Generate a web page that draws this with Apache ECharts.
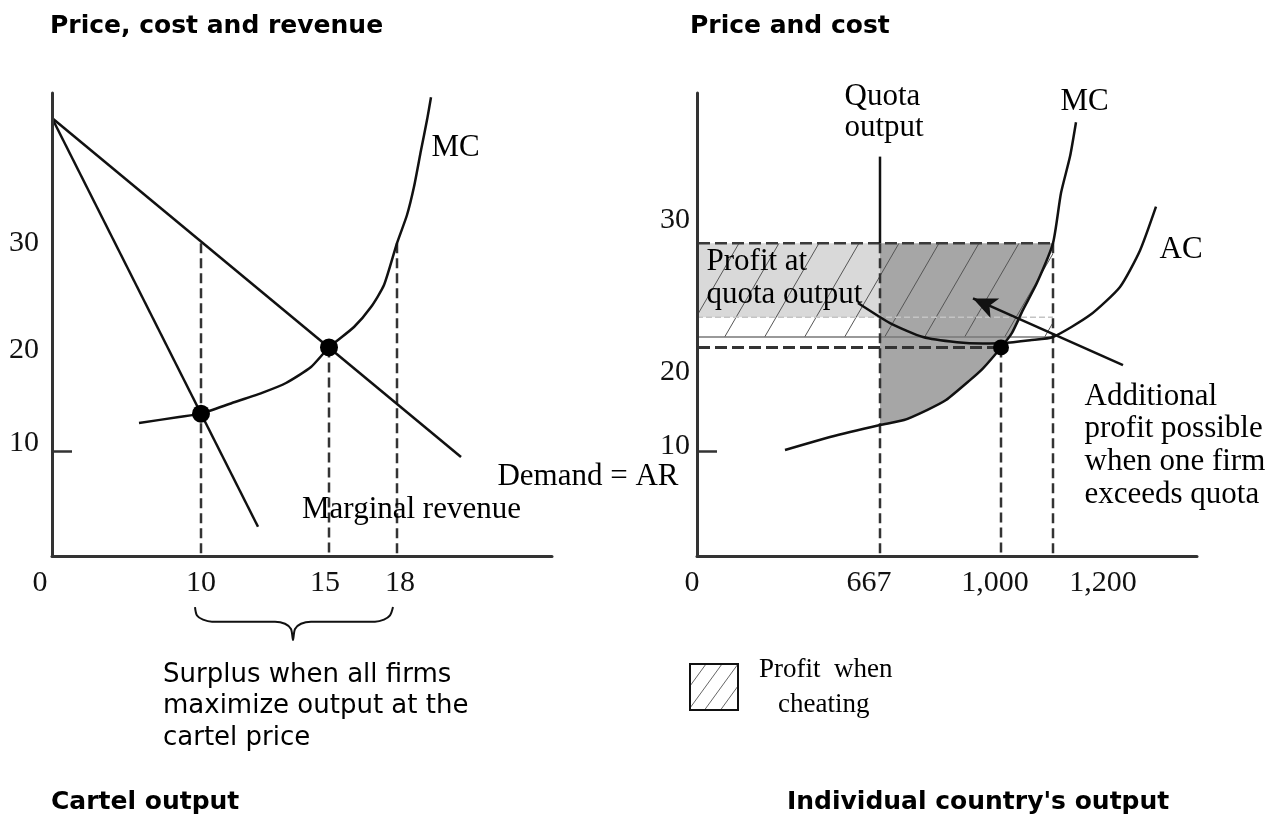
<!DOCTYPE html>
<html><head><meta charset="utf-8">
<script src="https://cdn.jsdelivr.net/npm/echarts@6/dist/echarts.min.js"></script>
<style>html,body{margin:0;padding:0;background:#fff}#c{width:1288px;height:818px}</style>
</head><body><div id="c"></div>
<script>
// ---------------- data (x = schematic output position 0-100 per panel, y = price) ----------------
const priceTicks = [10, 20, 30];
const cartelTickPos = [0, 29.8, 55.4, 69];
const cartelTickLabels = ['0', '10', '15', '18'];
const countryTickPos = [0, 36.6, 60.8, 71.2];
const countryTickLabels = ['0', '667', '1,000', '1,200'];

const cartelPrice = 30;
const cartelCost = 20;
const cartelDemand = [[0, 42], [81.8, 9.5]];
const cartelMR = [[0, 42], [41.2, 2.8]];
const cartelMC = [[17.4, 12.75], [25.4, 13.33], [29.8, 13.65], [36, 14.67], [42.4, 15.72], [46.8, 16.59],
  [51.8, 18.12], [55.4, 20], [60.4, 21.96], [63.8, 23.87], [66.4, 25.98], [69, 30], [71, 32.7],
  [72.4, 35.4], [73.8, 38.9], [75, 41.8], [75.8, 44]];
const cartelPoints = [[29.8, 13.65], [55.4, 20]];
const cartelOutputs = [29.8, 55.4, 69];          // 10, 15, 18
const braceCurve = [[28.6, -4.9], [29, -5.7], [30.2, -6.1], [32, -6.3], [44.6, -6.3], [46.6, -6.5],
  [47.8, -7], [48.2, -8.05], [48.6, -7], [49.8, -6.5], [51.8, -6.3], [64.6, -6.3], [66.4, -6.1],
  [67.6, -5.7], [68.2, -4.9]];

const quotaX = 36.6;        // 667
const equilibriumX = 60.8;  // 1,000
const cheatX = 71.2;        // 1,200
const quotaTop = 38.3;
const quotaProfitFloor = 22.9;
const cheatCost = 21.0;
const countryMC = [[17.6, 10.16], [26.6, 11.41], [36.6, 12.56], [41.4, 13.04], [46, 14.0], [49.8, 14.96], [54.6, 16.87],
  [57.2, 18.0], [60.8, 20], [63, 21.4], [65.2, 23.6], [68, 26.2], [71.2, 30], [72.8, 34.8], [74.6, 38.3], [75.8, 41.6]];
const countryAC = [[32.2, 24.26], [38.6, 22.34], [45.2, 21.0], [52, 20.5], [57.2, 20.38], [61.2, 20.42],
  [66.6, 20.7], [71.2, 21.0], [78.6, 23.1], [84.6, 25.8], [88.6, 29.3], [91.8, 33.5]];
const countryPoint = [[60.8, 20]];
const arrowPath = [[85.2, 18.3], [55.2, 24.7]];

// ---------------- layout & style ----------------
const SERIF = 'Liberation Serif';
const SANS = 'DejaVu Sans';
const G1 = {left: 52, top: 93, width: 500, height: 463};
const G2 = {left: 697, top: 93, width: 500, height: 463};
const X_MAX = 100, Y_MAX = 44.4;
const panelOffset = (G2.left - G1.left) / (G1.width / X_MAX); // left panel start in right-panel units

function makeHatch(w, h, color) {
  const c = document.createElement('canvas');
  c.width = w; c.height = h;
  const g = c.getContext('2d');
  g.strokeStyle = color; g.lineWidth = 1;
  [-w, 0, w].forEach(dx => {
    g.beginPath(); g.moveTo(dx, h); g.lineTo(dx + w, 0); g.stroke();
  });
  return {image: c, repeat: 'repeat'};
}
const hatch = makeHatch(40, 69, '#555');
const hatchSmall = makeHatch(16, 22, '#666');

const chart = echarts.init(document.getElementById('c'), null, {renderer: 'canvas'});

function seg(gi, pts, style, extra) {
  return Object.assign({type: 'line', xAxisIndex: gi, yAxisIndex: gi, data: pts, symbol: 'none',
    showSymbol: false, silent: true, clip: false, lineStyle: style, z: 3}, extra || {});
}
function poly(gi, pts, fill, z, name) {
  return {type: 'custom', name: name, xAxisIndex: gi, yAxisIndex: gi, silent: true, z: z, data: pts,
    encode: {x: 0, y: 1},
    renderItem: (params, api) => {
      if (params.dataIndex !== 0) return null;
      return {type: 'polygon', shape: {points: pts.map(p => api.coord(p))}, style: {fill: fill}};
    }};
}
function texts(gi, items) {
  return {type: 'scatter', xAxisIndex: gi, yAxisIndex: gi, symbolSize: 1, silent: true, clip: false, z: 6,
    itemStyle: {color: 'rgba(0,0,0,0)', opacity: 1},
    data: items.map(it => ({value: it.at, label: {show: true, position: [0, 0], formatter: it.text,
      align: it.align, verticalAlign: 'middle', fontFamily: SERIF, fontSize: it.size || 31,
      lineHeight: it.lh || 33, color: '#000', opacity: 1}}))};
}
function xAxisCfg(gi, pos, labels, pads) {
  return {gridIndex: gi, type: 'value', min: 0, max: X_MAX, z: 10, splitLine: {show: false},
    axisTick: {show: false}, axisLine: {show: true, onZero: false, lineStyle: {color: '#333', width: 3}},
    axisLabel: {customValues: pos, margin: 12,
      formatter: v => { const i = pos.findIndex(p => Math.abs(p - v) < 1e-6); return i < 0 ? '' : '{t' + i + '|' + labels[i] + '}'; },
      rich: Object.fromEntries(pads.map((p, i) => ['t' + i, {fontFamily: SERIF, fontSize: 30, color: '#111', padding: p}]))}};
}
function yAxisCfg(gi, margin, pads) {
  return {gridIndex: gi, type: 'value', min: 0, max: Y_MAX, z: 10, splitLine: {show: false},
    axisLine: {show: true, onZero: false, lineStyle: {color: '#333', width: 3}},
    axisTick: {show: true, inside: true, length: 20, customValues: [priceTicks[0]], lineStyle: {color: '#333', width: 2.5}},
    axisLabel: {customValues: priceTicks, margin: margin,
      formatter: v => { const i = priceTicks.indexOf(v); return i < 0 ? '' : '{t' + i + '|' + v + '}'; },
      rich: Object.fromEntries(pads.map((p, i) => ['t' + i, {fontFamily: SERIF, fontSize: 30, color: '#111', padding: p, align: 'right'}]))}};
}

const curve = {color: '#111', width: 2.5, type: 'solid'};
const hDash = {color: '#3a3a3a', width: 2.5, type: [12, 5]};
const vDash = {color: '#333', width: 2.5, type: [10, 5]};
const titleStyle = {fontFamily: SANS, fontWeight: 'bold', fontSize: 25, lineHeight: 30, color: '#000'};

const darkArea = [[quotaX, cartelPrice], [cheatX, cartelPrice]].concat(
  countryMC.filter(p => p[0] >= quotaX && p[0] <= cheatX).reverse());

const option = {
  animation: false,
  backgroundColor: '#fff',
  title: [
    {text: 'Price, cost and revenue', left: 50, top: 11, padding: 0, textStyle: titleStyle},
    {text: 'Price and cost', left: 690, top: 11, padding: 0, textStyle: titleStyle},
    {text: 'Cartel output', left: 51, top: 787, padding: 0, textStyle: titleStyle},
    {text: "Individual country's output", left: 787, top: 787, padding: 0, textStyle: titleStyle},
    {text: 'Surplus when all firms\nmaximize output at the\ncartel price', left: 163, top: 659, padding: 0,
      textStyle: {fontFamily: SANS, fontWeight: 'normal', fontSize: 26, lineHeight: 31.5, color: '#000'}}
  ],
  legend: {
    data: [{name: 'Profit when cheating', icon: 'rect', itemStyle: {color: hatchSmall, borderColor: '#111', borderWidth: 2}}],
    left: 689, top: 656, padding: 0, itemWidth: 48, itemHeight: 46, selectedMode: false,
    formatter: () => '{a|Profit  when}\n{b|cheating}',
    textStyle: {rich: {
      a: {fontFamily: SERIF, fontSize: 27, lineHeight: 35, color: '#000', padding: [0, 0, 0, 16]},
      b: {fontFamily: SERIF, fontSize: 27, lineHeight: 35, color: '#000', padding: [0, 0, 0, 35]}}}
  },
  grid: [G1, G2].map(g => Object.assign({containLabel: false}, g)),
  xAxis: [
    xAxisCfg(0, cartelTickPos, cartelTickLabels, [[0, 24, 10, 0], [0, 0, 0, 0], [0, 8, 0, 0], [0, 0, 0, 6]]),
    xAxisCfg(1, countryTickPos, countryTickLabels, [[0, 10, 10, 0], [0, 22, 0, 0], [0, 12, 0, 0], [0, 0, 0, 100]])
  ],
  yAxis: [
    yAxisCfg(0, 13, [[0, 0, 18, 0], [6, 0, 0, 0], [0, 0, 0, 0]]),
    yAxisCfg(1, 7, [[0, 0, 12, 0], [50, 0, 0, 0], [0, 0, 46, 0]])
  ],
  series: [
    // right panel fills
    poly(1, [[0, cartelPrice], [quotaX, cartelPrice], [quotaX, quotaProfitFloor], [0, quotaProfitFloor]], '#d9d9d9', 1),
    poly(1, darkArea, '#a6a6a6', 1),
    poly(1, [[0, cartelPrice], [cheatX, cartelPrice], [cheatX, cheatCost], [0, cheatCost]], hatch, 2, 'Profit when cheating'),
    seg(1, [[0, quotaProfitFloor], [cheatX, quotaProfitFloor]], {color: '#c4c4c4', width: 1.5, type: [6, 3]}),
    seg(1, [[0, cheatCost], [cheatX, cheatCost]], {color: '#777', width: 1.5, type: 'solid'}, {
      markLine: {silent: true, symbol: ['none', 'arrow'], symbolSize: [16, 24], label: {show: false},
        lineStyle: {color: '#111', width: 2.5, type: 'solid'},
        data: [[{coord: arrowPath[0]}, {coord: arrowPath[1]}]]}}),
    // price lines running across both panels
    seg(1, [[-panelOffset, cartelPrice], [cheatX, cartelPrice]], hDash),
    seg(1, [[-panelOffset, cartelCost], [equilibriumX, cartelCost]], Object.assign({}, hDash, {width: 3, color: '#333'})),
    // left verticals
    seg(0, [[cartelOutputs[0], cartelPrice], [cartelOutputs[0], 0]], vDash),
    seg(0, [[cartelOutputs[1], cartelCost], [cartelOutputs[1], 0]], vDash),
    seg(0, [[cartelOutputs[2], cartelPrice], [cartelOutputs[2], 0]], vDash),
    // right verticals
    seg(1, [[quotaX, quotaTop], [quotaX, cartelPrice]], curve),
    seg(1, [[quotaX, cartelPrice], [quotaX, 0]], vDash),
    seg(1, [[equilibriumX, cartelCost], [equilibriumX, 0]], vDash),
    seg(1, [[cheatX, cartelPrice], [cheatX, 0]], vDash),
    // curves
    seg(0, cartelDemand, curve, {z: 4}),
    seg(0, cartelMR, curve, {z: 4}),
    seg(0, cartelMC, curve, {z: 4, smooth: 0.2}),
    seg(1, countryMC, curve, {z: 4, smooth: 0.2}),
    seg(1, countryAC, curve, {z: 4, smooth: 0.2}),
    seg(0, braceCurve, {color: '#111', width: 2, type: 'solid'}, {smooth: 0.3}),
    // points
    {type: 'scatter', xAxisIndex: 0, yAxisIndex: 0, data: cartelPoints, symbolSize: 18, itemStyle: {color: '#000', opacity: 1}, silent: true, z: 5},
    {type: 'scatter', xAxisIndex: 1, yAxisIndex: 1, data: countryPoint, symbolSize: 16, itemStyle: {color: '#000', opacity: 1}, silent: true, z: 5},
    // annotations
    texts(0, [
      {at: [76, 39.1], text: 'MC', align: 'left'},
      {at: [72, 4.4], text: 'Marginal revenue', align: 'center'},
      {at: [125.4, 7.5], text: 'Demand = AR', align: 'right'}
    ]),
    texts(1, [
      {at: [29.6, 42.5], text: 'Quota\noutput', align: 'left', lh: 31},
      {at: [72.8, 43.5], text: 'MC', align: 'left'},
      {at: [92.6, 29.3], text: 'AC', align: 'left'},
      {at: [2, 26.6], text: 'Profit at\nquota output', align: 'left'},
      {at: [77.6, 10.55], text: 'Additional\nprofit possible\nwhen one firm\nexceeds quota', align: 'left', lh: 32.7}
    ])
  ]
};
chart.setOption(option);
</script>
</body></html>
